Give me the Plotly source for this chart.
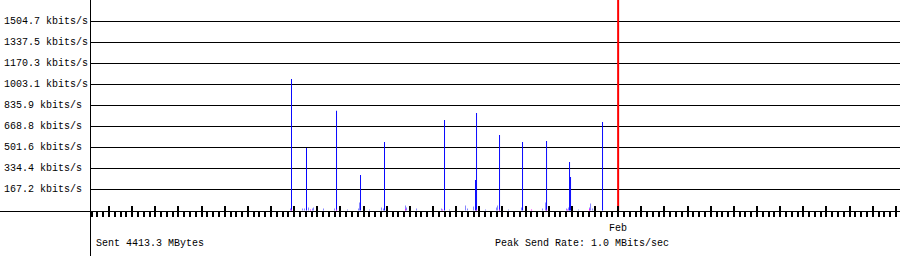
import plotly.graph_objects as go

# ---- data ----
x_start = "2007-01-09 04:18"
x_end = "2007-02-13 04:18"
month_marks = ["2007-02-01 00:00"]
month_labels = ["Feb"]

grid_vals = [167.2, 334.4, 501.6, 668.8, 835.9, 1003.1, 1170.3, 1337.5, 1504.7]
grid_labels = ["167.2 kbits/s", "334.4 kbits/s", "501.6 kbits/s", "668.8 kbits/s",
               "835.9 kbits/s", "1003.1 kbits/s", "1170.3 kbits/s", "1337.5 kbits/s",
               "1504.7 kbits/s"]
y_min, y_max = -3.98, 1676.0

spike_times = ["2007-01-17 21:17", "2007-01-18 12:50", "2007-01-19 19:58", "2007-01-20 20:51",
               "2007-01-21 21:44", "2007-01-24 11:58", "2007-01-25 20:07", "2007-01-25 21:10",
               "2007-01-26 21:01", "2007-01-27 20:52", "2007-01-28 21:46", "2007-01-29 21:37",
               "2007-01-29 22:39", "2007-01-31 07:50"]
spike_vals = [1047, 498, 794, 283, 545, 721, 243, 776, 601, 545, 553, 386, 267, 705]

small_times = ["2007-01-17 20:15", "2007-01-18 08:41", "2007-01-18 10:46", "2007-01-18 14:55",
               "2007-01-18 19:04", "2007-01-18 20:06", "2007-01-19 06:28", "2007-01-19 17:53",
               "2007-01-20 07:22", "2007-01-20 18:46", "2007-01-20 19:49", "2007-01-21 06:11",
               "2007-01-21 18:38", "2007-01-21 20:42", "2007-01-22 19:31", "2007-01-22 20:34",
               "2007-01-23 06:56", "2007-01-24 08:52", "2007-01-24 17:10", "2007-01-25 09:45",
               "2007-01-25 11:50", "2007-01-25 18:03", "2007-01-26 06:29", "2007-01-26 17:54",
               "2007-01-26 18:56", "2007-01-27 06:21", "2007-01-27 19:50", "2007-01-28 17:37",
               "2007-01-28 20:44", "2007-01-29 18:31", "2007-01-29 20:35", "2007-01-30 06:57",
               "2007-01-30 18:22", "2007-01-30 19:24", "2007-01-30 21:28"]
small_vals = [16, 16, 16, 24, 16, 24, 16, 16, 8, 16, 64, 8, 24, 16, 40, 24, 16, 16, 8, 40,
              16, 32, 8, 24, 40, 8, 24, 16, 64, 16, 24, 8, 24, 56, 16]

magenta_times = ["2007-01-17 21:17", "2007-01-18 16:59", "2007-01-19 19:58", "2007-01-22 19:31",
                 "2007-01-24 09:54", "2007-01-25 21:10", "2007-01-26 21:01", "2007-01-28 06:12",
                 "2007-01-28 21:46", "2007-01-29 19:32", "2007-01-30 18:22"]
magenta_vals = [8, 8, 8, 12, 8, 8, 8, 8, 8, 8, 12]

sent_text = "Sent 4413.3 MBytes"
peak_text = "Peak Send Rate: 1.0 MBits/sec"

# ---- style ----
FONT = "Liberation Mono, DejaVu Sans Mono, monospace"
W, H = 900, 256
L, B = 90, 45
PW, PH = W - L, H - B
bar_w = 3.6e6

fig = go.Figure()
fig.add_trace(go.Bar(x=small_times, y=small_vals, width=bar_w, marker=dict(color="#8080ff", line=dict(width=0)),
                     hoverinfo="skip"))
fig.add_trace(go.Bar(x=spike_times, y=spike_vals, width=bar_w, marker=dict(color="#0000ff", line=dict(width=0)),
                     hoverinfo="skip"))
fig.add_trace(go.Bar(x=magenta_times, y=magenta_vals, width=bar_w, marker=dict(color="#ff00ff", line=dict(width=0)),
                     hoverinfo="skip"))
for m in month_marks:
    fig.add_trace(go.Scatter(x=[m, m], y=[0, y_max], mode="lines", line=dict(color="#ff0000", width=2),
                             xaxis="x2", hoverinfo="skip"))

fig.update_layout(
    width=W, height=H, margin=dict(l=L, r=0, t=0, b=B, pad=0),
    paper_bgcolor="white", plot_bgcolor="white", showlegend=False, barmode="overlay",
    font=dict(family=FONT, size=10, color="black"),
    xaxis=dict(type="date", range=[x_start, x_end], showgrid=False, zeroline=False, showline=False,
               ticks="inside", ticklen=5, tickwidth=2, tickcolor="black",
               tick0="2007-01-10", dtick=86400000, showticklabels=False),
    xaxis2=dict(type="date", range=[x_start, x_end], overlaying="x", anchor="y", side="bottom",
                showgrid=False, zeroline=False, showline=False,
                ticks="outside", ticklen=5, tickwidth=2, tickcolor="black",
                tick0="2007-01-10", dtick=21600000, showticklabels=False),
    yaxis=dict(range=[y_min, y_max], showgrid=True, gridcolor="black", gridwidth=1,
               tickmode="array", tickvals=grid_vals, showticklabels=False, ticks="",
               zeroline=False, showline=False),
)

# axis lines (extend into margins like the original)
fig.add_shape(type="line", xref="paper", yref="paper", x0=0.5 / PW, x1=0.5 / PW, y0=-B / PH, y1=1,
              line=dict(color="black", width=1))
fig.add_shape(type="line", xref="paper", yref="paper", x0=-L / PW, x1=1, y0=-0.5 / PH, y1=-0.5 / PH,
              line=dict(color="black", width=1))

label_len = max(len(t) for t in grid_labels)
for v, t in zip(grid_vals, grid_labels):
    padded = t + "\u00a0" * (label_len - len(t))   # keep labels left-aligned in monospace
    fig.add_annotation(x=(3 - L) / PW, xref="paper", y=v, yref="y", text=padded, showarrow=False,
                       xanchor="left", yanchor="middle", borderpad=0, align="left",
                       font=dict(family=FONT, size=10, color="black"))
for m, t in zip(month_marks, month_labels):
    fig.add_annotation(x=m, xref="x", y=(PH - 228) / PH, yref="paper", text=t, showarrow=False,
                       xanchor="center", yanchor="middle", borderpad=0,
                       font=dict(family=FONT, size=10, color="black"))
fig.add_annotation(x=(95 - L) / PW, xref="paper", y=(PH - 243) / PH, yref="paper", text=sent_text,
                   showarrow=False, xanchor="left", yanchor="middle", borderpad=0,
                   font=dict(family=FONT, size=10, color="black"))
fig.add_annotation(x=(494 - L) / PW, xref="paper", y=(PH - 243) / PH, yref="paper", text=peak_text,
                   showarrow=False, xanchor="left", yanchor="middle", borderpad=0,
                   font=dict(family=FONT, size=10, color="black"))

fig.write_html("out.html", config={"staticPlot": True})
